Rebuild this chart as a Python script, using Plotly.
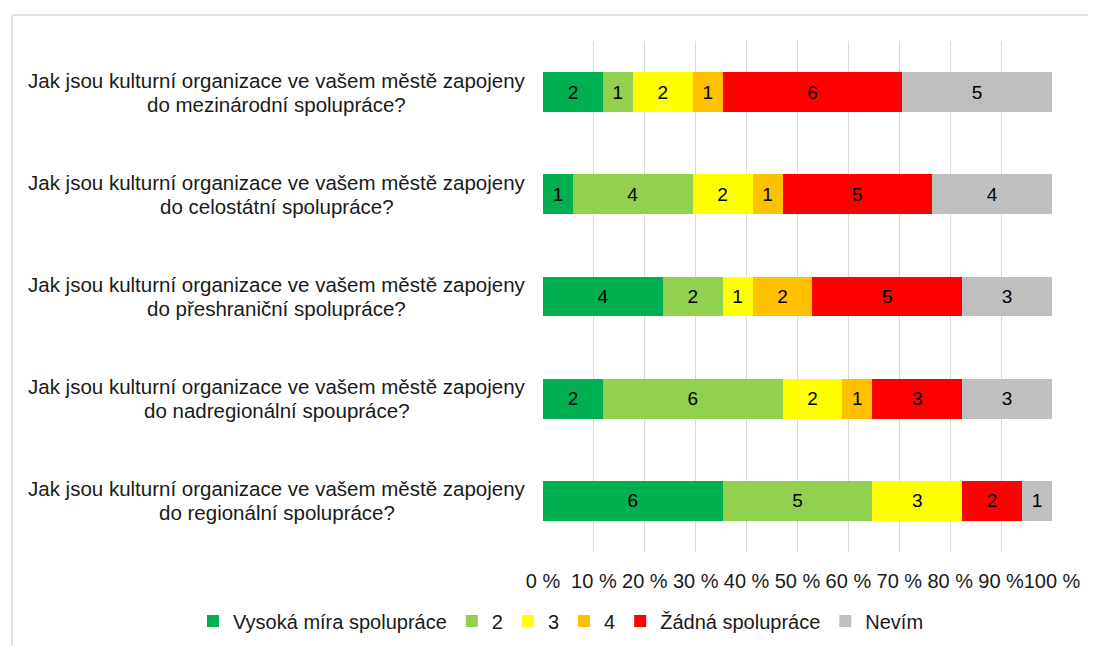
import plotly.graph_objects as go

questions = [
    "Jak jsou kulturní organizace ve vašem městě zapojeny<br>do mezinárodní spolupráce?",
    "Jak jsou kulturní organizace ve vašem městě zapojeny<br>do celostátní spolupráce?",
    "Jak jsou kulturní organizace ve vašem městě zapojeny<br>do přeshraniční spolupráce?",
    "Jak jsou kulturní organizace ve vašem městě zapojeny<br>do nadregionální spoupráce?",
    "Jak jsou kulturní organizace ve vašem městě zapojeny<br>do regionální spolupráce?",
]
series_names = ["Vysoká míra spolupráce", "2", "3", "4", "Žádná spolupráce", "Nevím"]
vysoka = [2, 1, 4, 2, 6]
dva = [1, 4, 2, 6, 5]
tri = [2, 2, 1, 2, 3]
ctyri = [1, 1, 2, 1, 0]
zadna = [6, 5, 5, 3, 2]
nevim = [5, 4, 3, 3, 1]
series_values = [vysoka, dva, tri, ctyri, zadna, nevim]
colors = ["#00B050", "#92D050", "#FFFF00", "#FFC000", "#FF0000", "#BFBFBF"]
tick_vals = [0, 10, 20, 30, 40, 50, 60, 70, 80, 90, 100]
tick_text = [f"{v} %" for v in tick_vals]

FONT = "Liberation Sans, Arial, sans-serif"
TXT = "#1a1a1a"
# page is offset by the 8px body margin; figure coords = page coords - 8
OFF = 8
W, H = 1096 - OFF, 646 - OFF
ML, MR, MT, MB = 543 - OFF, 44, 41 - OFF, 94

pw = W - ML - MR
ph = H - MT - MB
def px_x(x):  # page px -> paper x
    return (x - OFF - ML) / pw
def px_y(y):  # page px -> paper y
    return (H - MB - (y - OFF)) / ph

fig = go.Figure()
for name, vals, col in zip(series_names, series_values, colors):
    fig.add_trace(go.Bar(
        y=questions, x=vals, name=name, orientation="h",
        marker=dict(color=col, line=dict(width=0)),
        text=[str(v) if v else "" for v in vals],
        textposition="inside", insidetextanchor="middle", textangle=0,
        textfont=dict(size=19, color="#000000", family=FONT),
        hoverinfo="skip",
    ))

label_center_x = px_x(276.5)
for q in questions:
    lines = q.split("<br>")
    for i, ln in enumerate(lines):
        fig.add_annotation(
            x=label_center_x, xref="paper", y=q, yref="y", text=ln,
            showarrow=False, xanchor="center", yanchor="middle",
            yshift=12 - 24 * i,
            font=dict(size=20.5, color=TXT, family=FONT),
        )

line = dict(color="#e2e2e2", width=2)
fig.add_shape(type="line", xref="paper", yref="paper",
              x0=px_x(12), x1=px_x(1110), y0=px_y(15), y1=px_y(15), line=line)
fig.add_shape(type="line", xref="paper", yref="paper",
              x0=px_x(12), x1=px_x(12), y0=px_y(15), y1=px_y(660), line=line)

fig.update_layout(
    width=W, height=H,
    barmode="stack", barnorm="percent", bargap=0.61,
    margin=dict(l=ML, r=MR, t=MT, b=MB, autoexpand=False),
    paper_bgcolor="white", plot_bgcolor="white",
    font=dict(family=FONT, size=20, color=TXT),
    showlegend=True,
    legend=dict(orientation="h", xref="paper", yref="paper",
                x=px_x(193), y=px_y(621), xanchor="left", yanchor="middle",
                font=dict(size=20, family=FONT, color=TXT),
                traceorder="normal", itemwidth=30, bgcolor="rgba(0,0,0,0)"),
    xaxis=dict(range=[0, 100], tickvals=tick_vals, ticktext=tick_text,
               tickangle=0,
               showgrid=True, gridcolor="#d9d9d9", gridwidth=1,
               zeroline=False, showline=False, ticks="",
               ticklabelstandoff=15,
               tickfont=dict(size=20, family=FONT, color=TXT)),
    yaxis=dict(autorange="reversed", showticklabels=False, showgrid=False,
               zeroline=False, showline=False, ticks=""),
)

fig.write_html("out.html")
